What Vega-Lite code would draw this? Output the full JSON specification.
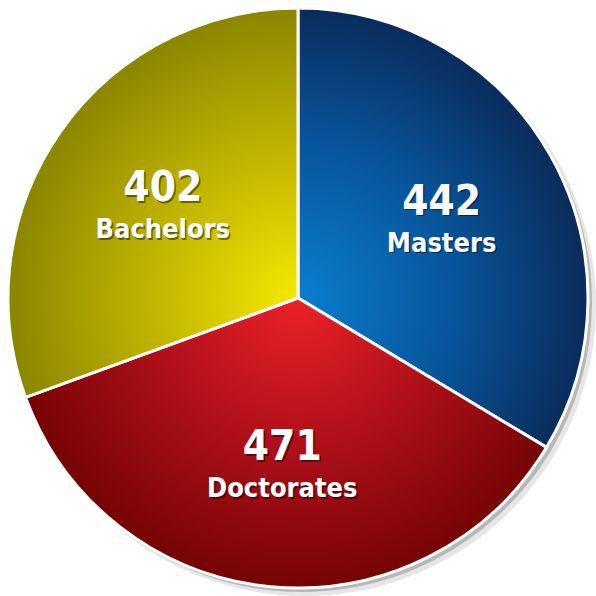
{
  "$schema": "https://vega.github.io/schema/vega-lite/v6.json",
  "width": 596,
  "height": 596,
  "autosize": {"type": "fit", "contains": "padding"},
  "padding": 0,
  "background": "white",
  "view": {"stroke": null},
  "data": {
    "values": [
      {"degree": "Masters", "count": 442},
      {"degree": "Doctorates", "count": 471},
      {"degree": "Bachelors", "count": 402}
    ]
  },
  "encoding": {
    "theta": {"field": "count", "type": "quantitative", "stack": true},
    "order": {"field": "degree", "type": "nominal", "sort": "descending"}
  },
  "layer": [
    {
      "mark": {"type": "arc", "outerRadius": 291, "x": {"expr": "width/2+7"}, "y": {"expr": "height/2+7"}, "color": "#808080", "opacity": 0.2},
      "encoding": {}
    },
    {
      "mark": {"type": "arc", "outerRadius": 290, "x": {"expr": "width/2+4"}, "y": {"expr": "height/2+4"}, "color": "#606060", "opacity": 0.35},
      "encoding": {}
    },
    {
      "mark": {"type": "arc", "outerRadius": 290, "stroke": "white", "strokeWidth": 3},
      "encoding": {
        "color": {
          "condition": [
            {"test": "datum.degree === 'Masters'", "value": {"gradient": "radial", "x1": 0.17, "y1": 0.66, "r1": 0, "x2": 0.17, "y2": 0.66, "r2": 0.66, "stops": [{"offset": 0, "color": "#0a7fcf"}, {"offset": 0.55, "color": "#08549a"}, {"offset": 1, "color": "#0a2c5c"}]}},
            {"test": "datum.degree === 'Doctorates'", "value": {"gradient": "radial", "x1": 0.523, "y1": 0.222, "r1": 0, "x2": 0.523, "y2": 0.222, "r2": 0.557, "stops": [{"offset": 0, "color": "#ec2228"}, {"offset": 0.5, "color": "#b0101a"}, {"offset": 1, "color": "#760404"}]}}
          ],
          "value": {"gradient": "radial", "x1": 0.872, "y1": 0.745, "r1": 0, "x2": 0.872, "y2": 0.745, "r2": 0.745, "stops": [{"offset": 0, "color": "#f4e800"}, {"offset": 0.55, "color": "#bcb000"}, {"offset": 1, "color": "#8a8600"}]}
        }
      }
    },
    {
      "mark": {"type": "text", "radius": 165, "dy": -13.5, "dx": 1.5, "font": "DejaVu Sans Condensed", "fontWeight": "bold", "fontSize": 42, "color": "black", "opacity": 0.45, "baseline": "middle"},
      "encoding": {"text": {"field": "count", "type": "quantitative"}}
    },
    {
      "mark": {"type": "text", "radius": 165, "dy": 28.5, "dx": 1.5, "font": "DejaVu Sans Condensed", "fontWeight": "bold", "fontSize": 27, "color": "black", "opacity": 0.45, "baseline": "middle"},
      "encoding": {"text": {"field": "degree", "type": "nominal"}}
    },
    {
      "mark": {"type": "text", "radius": 165, "dy": -15, "font": "DejaVu Sans Condensed", "fontWeight": "bold", "fontSize": 42, "color": "white", "baseline": "middle"},
      "encoding": {"text": {"field": "count", "type": "quantitative"}}
    },
    {
      "mark": {"type": "text", "radius": 165, "dy": 27, "font": "DejaVu Sans Condensed", "fontWeight": "bold", "fontSize": 27, "color": "white", "baseline": "middle"},
      "encoding": {"text": {"field": "degree", "type": "nominal"}}
    }
  ]
}
